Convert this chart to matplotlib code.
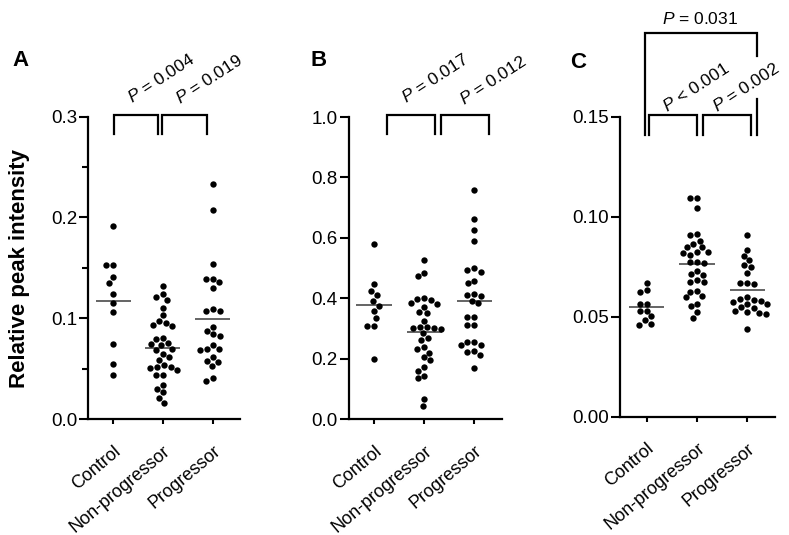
"""Scatter plots of relative peak intensity per group (panels A-C)."""
import numpy as np
import matplotlib.pyplot as plt
from matplotlib.ticker import MultipleLocator, FormatStrFormatter

plt.rcParams["font.family"] = ["Liberation Sans", "DejaVu Sans"]
plt.rcParams["mathtext.fontset"] = "custom"
plt.rcParams["mathtext.rm"] = "Liberation Sans"
plt.rcParams["mathtext.it"] = "Liberation Sans:italic"

groups = ["Control", "Non-progressor", "Progressor"]

# panel A
a_control = [0.192, 0.153, 0.153, 0.141, 0.135, 0.124, 0.115, 0.106, 0.074, 0.055, 0.044]
a_nonprog = [0.132, 0.124, 0.121, 0.118, 0.110, 0.103, 0.097, 0.095, 0.093, 0.092,
             0.080, 0.079, 0.075, 0.074, 0.073, 0.069, 0.068, 0.065, 0.062, 0.059,
             0.054, 0.052, 0.052, 0.051, 0.049, 0.044, 0.044, 0.034, 0.030, 0.027,
             0.021, 0.016]
a_prog = [0.233, 0.207, 0.154, 0.139, 0.139, 0.136, 0.130, 0.109, 0.107, 0.107,
          0.091, 0.087, 0.084, 0.082, 0.073, 0.069, 0.069, 0.068, 0.062, 0.058,
          0.057, 0.053, 0.041, 0.038]

# panel B
b_control = [0.580, 0.446, 0.425, 0.411, 0.391, 0.375, 0.358, 0.336, 0.309, 0.309, 0.199]
b_nonprog = [0.527, 0.485, 0.474, 0.402, 0.396, 0.394, 0.383, 0.381, 0.372, 0.355,
             0.350, 0.326, 0.306, 0.304, 0.300, 0.300, 0.297, 0.284, 0.267, 0.262,
             0.237, 0.231, 0.220, 0.204, 0.195, 0.173, 0.160, 0.144, 0.135, 0.066,
             0.043]
b_prog = [0.758, 0.661, 0.626, 0.590, 0.499, 0.493, 0.488, 0.458, 0.449, 0.414,
          0.411, 0.408, 0.392, 0.383, 0.339, 0.339, 0.311, 0.311, 0.256, 0.256,
          0.245, 0.245, 0.225, 0.223, 0.212, 0.168]

# panel C
c_control = [0.0670, 0.0633, 0.0626, 0.0566, 0.0566, 0.0530, 0.0530, 0.0502, 0.0484,
             0.0464, 0.0460]
c_nonprog = [0.1096, 0.1096, 0.1043, 0.0914, 0.0907, 0.0881, 0.0864, 0.0848, 0.0848,
             0.0824, 0.0824, 0.0818, 0.0811, 0.0772, 0.0772, 0.0768, 0.0728, 0.0712,
             0.0709, 0.0685, 0.0675, 0.0672, 0.0629, 0.0626, 0.0603, 0.0599, 0.0566,
             0.0553, 0.0523, 0.0494]
c_prog = [0.0907, 0.0836, 0.0805, 0.0782, 0.0757, 0.0748, 0.0720, 0.0670, 0.0669,
          0.0662, 0.0600, 0.0588, 0.0584, 0.0580, 0.0576, 0.0563, 0.0563, 0.0550,
          0.0545, 0.0530, 0.0526, 0.0520, 0.0513, 0.0437]

W, H = 789, 535


def swarm(values, px_x, px_y, min_dist=7.0):
    """Beeswarm-like x offsets so that dots do not overlap."""
    vals = np.asarray(values)
    order = np.argsort(-vals, kind="stable")
    cands = [0.0]
    for k in range(1, 60):
        cands += [-0.5 * k, 0.5 * k]
    placed = []
    offs = np.zeros(len(vals))
    for i in order:
        y = vals[i] * px_y
        for c in cands:
            if all((c - px) ** 2 + (y - py) ** 2 >= min_dist ** 2 for px, py in placed):
                break
        placed.append((c, y))
        offs[i] = c / px_x
    return offs


def draw_panel(ax, data, ymax, ystep, fmt, xlim=(-0.5, 2.55), minor=None):
    ax.set_xlim(*xlim)
    ax.set_ylim(0, ymax)
    box = ax.get_position()
    px_x = box.width * W / (xlim[1] - xlim[0])
    px_y = box.height * H / ymax
    for i, vals in enumerate(data):
        offs = swarm(vals, px_x, px_y)
        ax.scatter(i + offs, vals, s=21, color="black", linewidths=0,
                   zorder=3, clip_on=False)
        ax.hlines(np.mean(vals), i - 0.35, i + 0.35, color="#3a3a3a", lw=1.1, zorder=2)

    for side in ("top", "right"):
        ax.spines[side].set_visible(False)
    for side in ("left", "bottom"):
        ax.spines[side].set_linewidth(1.6)

    ax.yaxis.set_major_locator(MultipleLocator(ystep))
    ax.yaxis.set_major_formatter(FormatStrFormatter(fmt))
    if minor:
        ax.yaxis.set_minor_locator(MultipleLocator(minor))
    ax.tick_params(axis="y", which="major", length=6.5, width=1.5, pad=1.5, labelsize=13.5)
    ax.tick_params(axis="y", which="minor", length=4, width=1.5)
    ax.set_xticks(range(len(groups)))
    ax.set_xticklabels(groups, rotation=40, ha="right", va="top",
                       rotation_mode="anchor", fontsize=13)
    ax.tick_params(axis="x", length=3.8, width=1.5, pad=13)


def bracket(ax, x0, x1, ybot, ytop):
    ax.plot([x0, x0, x1, x1], [ybot, ytop, ytop, ybot], color="black", lw=1.6,
            clip_on=False, solid_joinstyle="miter")


def pval(ax, x, y, txt):
    ax.text(x, y, txt, rotation=33, ha="left", va="baseline",
            rotation_mode="anchor", fontsize=12.5)


fig = plt.figure(figsize=(W / 100, H / 100), dpi=100)
ax_a = fig.add_axes([0.1119, 0.2168, 0.1923, 0.565])
ax_b = fig.add_axes([0.4423, 0.2168, 0.1939, 0.5645])
ax_c = fig.add_axes([0.7858, 0.2211, 0.1965, 0.5607])

draw_panel(ax_a, [a_control, a_nonprog, a_prog], 0.3, 0.1, "%.1f", minor=0.05)
draw_panel(ax_b, [b_control, b_nonprog, b_prog], 1.0, 0.2, "%.1f")
draw_panel(ax_c, [c_control, c_nonprog, c_prog], 0.15, 0.05, "%.2f", xlim=(-0.53, 2.55))

# significance brackets
bracket(ax_a, 0.02, 0.9, 0.283, 0.3015)
bracket(ax_a, 0.99, 1.89, 0.283, 0.3015)
pval(ax_a, 0.37, 0.3135, "$P$ = 0.004")
pval(ax_a, 1.34, 0.312, "$P$ = 0.019")

bracket(ax_b, 0.25, 1.22, 0.944, 1.006)
bracket(ax_b, 1.34, 2.29, 0.944, 1.006)
pval(ax_b, 0.64, 1.045, "$P$ = 0.017")
pval(ax_b, 1.80, 1.04, "$P$ = 0.012")

bracket(ax_c, 0.05, 1.0, 0.1407, 0.1507)
bracket(ax_c, 1.11, 2.07, 0.1407, 0.1507)
ax_c.plot([-0.034, -0.034, 2.2, 2.2], [0.1407, 0.192, 0.192, 0.1805], color="black",
          lw=1.6, clip_on=False, solid_joinstyle="miter")
ax_c.plot([2.2, 2.2], [0.159, 0.1407], color="black", lw=1.6, clip_on=False)
pval(ax_c, 0.40, 0.1523, "$P$ < 0.001")
pval(ax_c, 1.39, 0.1523, "$P$ = 0.002")
ax_c.text(1.06, 0.1987, "$P$ = 0.031", ha="center", va="center", fontsize=12.5)

fig.text(20 / W, 1 - 268 / H, "Relative peak intensity", rotation=90,
         ha="center", va="center", fontsize=16, fontweight="bold")
for letter, x, y in (("A", 12, 61), ("B", 310, 60), ("C", 570, 63)):
    fig.text(x / W, 1 - y / H, letter, ha="left", va="center",
             fontsize=16, fontweight="bold")

fig.savefig("out.png", dpi=100)
